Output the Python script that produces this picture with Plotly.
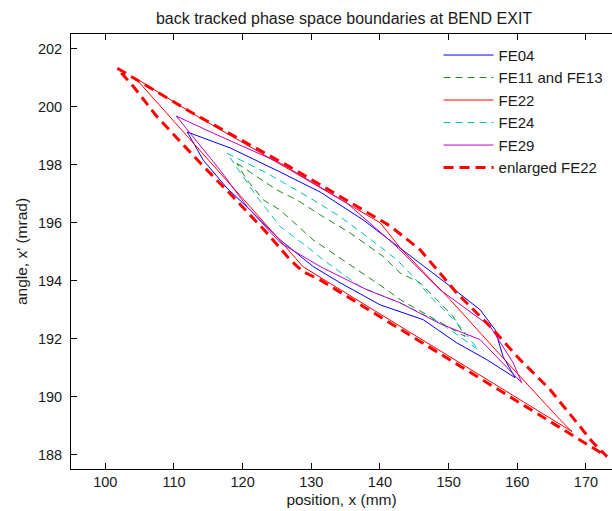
import plotly.graph_objects as go

# ---- data (position x in mm, angle x' in mrad) ----
fe04_x = [111.94, 118.20, 125.47, 131.30, 137.55, 142.94, 149.74, 154.59, 156.77, 157.93, 159.68,
          155.56, 151.19, 146.29, 140.03, 134.21, 130.28, 125.47, 121.54, 117.71, 114.26, 111.94]
fe04_y = [199.12, 198.57, 197.74, 197.05, 196.09, 195.13, 193.89, 192.99, 192.30, 191.38, 190.65,
          191.27, 191.85, 192.65, 193.16, 193.92, 194.48, 195.40, 196.33, 197.19, 198.15, 199.12]

fe11_x = [119.17, 122.08, 124.99, 127.90, 131.73, 135.66, 140.47, 142.94, 145.85, 148.28, 150.66, 152.40,
          149.74, 146.29, 142.94, 141.00, 136.10, 133.19, 130.28, 125.47, 123.00, 120.63, 119.17]
fe11_y = [198.04, 197.58, 197.12, 196.78, 196.20, 195.64, 194.83, 194.26, 193.92, 193.34, 192.76, 192.07,
          192.42, 192.89, 193.34, 193.68, 194.48, 194.95, 195.40, 196.43, 196.78, 197.47, 198.04]

fe22_x = [104.37, 113.83, 126.93, 140.03, 142.94, 150.22, 157.50, 166.23, 167.98,
          157.50, 142.94, 131.30, 128.82, 121.11, 112.37, 104.37]
fe22_y = [200.98, 199.60, 197.81, 195.99, 195.13, 193.34, 191.44, 189.20, 188.79,
          190.31, 192.41, 194.10, 194.47, 196.54, 198.84, 200.98]

fe24_x = [117.71, 123.54, 130.28, 134.21, 140.03, 142.46, 144.83, 147.74, 149.74, 151.67, 153.13, 154.34,
          148.76, 145.85, 142.94, 140.03, 137.12, 131.73, 129.36, 125.47, 122.08, 118.92, 117.71]
fe24_y = [198.39, 197.70, 196.78, 196.20, 195.17, 194.71, 194.14, 193.34, 192.89, 192.42, 191.96, 191.61,
          192.54, 192.89, 193.23, 193.51, 193.79, 194.71, 195.17, 195.86, 196.89, 197.98, 198.39]

fe29_x = [110.33, 115.72, 125.47, 135.18, 142.21, 148.76, 156.04, 159.39, 160.66,
          154.59, 148.76, 142.94, 138.09, 131.30, 125.47, 120.63, 116.74, 112.37, 110.33]
fe29_y = [199.67, 199.08, 198.05, 196.67, 195.22, 193.68, 192.42, 191.17, 190.47,
          191.96, 192.51, 193.23, 193.68, 194.48, 195.30, 196.55, 197.80, 199.08, 199.67]

enl_x = [101.75, 112.37, 126.93, 141.48, 145.85, 151.19, 156.04, 160.41, 164.77, 168.66, 171.03, 173.07,
         164.77, 154.59, 142.94, 131.30, 128.82, 126.93, 123.54, 118.63, 113.83, 110.44, 107.53, 104.12, 101.75]
enl_y = [201.32, 199.82, 197.91, 195.88, 195.06, 193.57, 192.42, 191.27, 190.24, 189.09, 188.41, 187.93,
         189.14, 190.62, 192.34, 194.02, 194.30, 194.71, 195.64, 196.88, 198.05, 198.90, 199.65, 200.68, 201.32]

x_ticks = [100, 110, 120, 130, 140, 150, 160, 170]
y_ticks = [188, 190, 192, 194, 196, 198, 200, 202]

FONT = "Liberation Sans, Arial, Helvetica, sans-serif"
TXT = "#1a1a1a"

series = [
    ("FE04", fe04_x, fe04_y, dict(color="#0000ff", width=1)),
    ("FE11 and FE13", fe11_x, fe11_y, dict(color="#1a8a1a", width=1, dash="7px,5px")),
    ("FE22", fe22_x, fe22_y, dict(color="#ff0000", width=1)),
    ("FE24", fe24_x, fe24_y, dict(color="#00c0c0", width=1, dash="7px,5px")),
    ("FE29", fe29_x, fe29_y, dict(color="#c000c0", width=1)),
    ("enlarged FE22", enl_x, enl_y, dict(color="#ff0000", width=3, dash="10px,6px")),
]

fig = go.Figure()
for i, (name, xs, ys, line) in enumerate(series):
    fig.add_trace(go.Scatter(x=xs, y=ys, mode="lines", name=name, line=line,
                             legendgroup=f"g{i}"))

fig.update_layout(
    width=612, height=511,
    margin=dict(l=71, r=0, t=34, b=42),
    paper_bgcolor="white", plot_bgcolor="white",
    font=dict(family=FONT, size=15, color=TXT),
    title=dict(text="back tracked phase space boundaries at BEND EXIT",
               x=344 / 612, xref="container", xanchor="center",
               y=1 - 18 / 511, yref="container", yanchor="middle",
               font=dict(size=16, family=FONT, color=TXT)),
    showlegend=True,
    legend=dict(x=0.6794, y=0.989, xanchor="left", yanchor="top",
                bgcolor="rgba(0,0,0,0)", borderwidth=0,
                traceorder="grouped", tracegroupgap=0,
                itemwidth=50,
                font=dict(size=15, family=FONT, color=TXT)),
)
fig.update_xaxes(range=[95, 173.8], tickvals=x_ticks, ticks="inside", ticklen=6,
                 showline=True, linecolor="black", linewidth=1, mirror="ticks",
                 showgrid=False, zeroline=False, tickcolor="black",
                 tickfont=dict(size=14.5, family=FONT, color=TXT),
                 title=dict(text="position, x (mm)", standoff=4,
                            font=dict(size=15.5, family=FONT, color=TXT)))
fig.update_yaxes(range=[187.5, 202.5], tickvals=y_ticks, ticks="inside", ticklen=6,
                 showline=True, linecolor="black", linewidth=1, mirror=False,
                 showgrid=False, zeroline=False, tickcolor="black",
                 ticklabelstandoff=5,
                 tickfont=dict(size=14.5, family=FONT, color=TXT),
                 title=dict(text="angle, x' (mrad)", standoff=6,
                            font=dict(size=15.5, family=FONT, color=TXT)))

fig.write_html("out.html")
